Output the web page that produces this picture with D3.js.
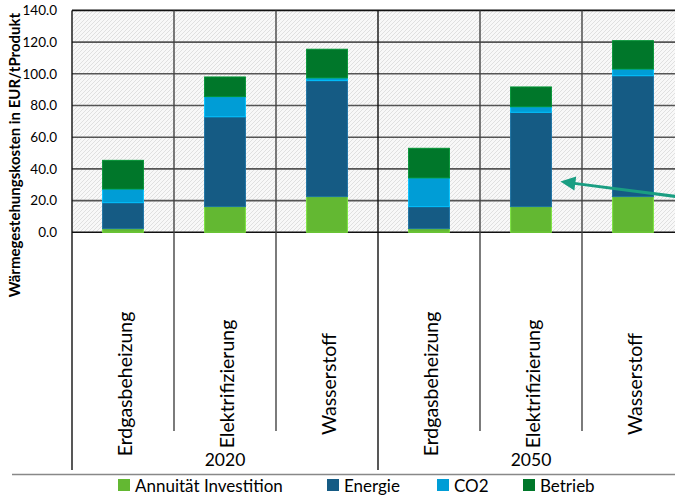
<!DOCTYPE html>
<html>
<head>
<meta charset="utf-8">
<script src="https://cdn.jsdelivr.net/npm/d3@7"></script>
<style>
  body { margin: 0; background: #fff; }
  text { font-family: Lato, "Open Sans", sans-serif; fill: #000; }
</style>
</head>
<body>
<script>
var years = ["2020", "2050"];
var technologies = ["Erdgasbeheizung", "Elektrifizierung", "Wasserstoff"];
var seriesNames = ["Annuität Investition", "Energie", "CO2", "Betrieb"];
var seriesColors = ["#63b832", "#155b84", "#009dd6", "#00772a"];

// one value per bar, order: 2020 x3, 2050 x3
var annuitaet = [2.3, 16.2, 22.5, 2.3, 16.2, 22.5];
var energie   = [16.4, 56.7, 73.2, 13.9, 59.5, 76.3];
var co2       = [8.6, 12.7, 1.7, 18.1, 3.5, 4.2];
var betrieb   = [18.1, 12.4, 18.1, 18.7, 12.5, 17.9];
var yTicks = [0, 20, 40, 60, 80, 100, 120, 140];

var width = 675, height = 498;
var plotL = 72, plotR = 684, plotT = 10.4, plotB = 232.3;

var svg = d3.select('body').append('svg').attr('width', width).attr('height', height);

// hatch pattern for plot background
var pat = svg.append('defs').append('pattern')
    .attr('id', 'hatch').attr('patternUnits', 'userSpaceOnUse')
    .attr('width', 4).attr('height', 4);
pat.append('rect').attr('width', 4).attr('height', 4).attr('fill', '#f8f8f8');
pat.append('path').attr('d', 'M-1,1 l2,-2 M0,4 l4,-4 M3,5 l2,-2')
    .attr('stroke', '#e0e0e0').attr('stroke-width', 1);

var bars = [];
years.forEach(function(yr, gi) {
  technologies.forEach(function(t, ti) {
    bars.push({year: yr, tech: t, key: yr + '|' + t, idx: gi * 3 + ti});
  });
});
var seriesData = [annuitaet, energie, co2, betrieb];

var x = d3.scaleBand().domain(bars.map(d => d.key)).range([plotL, plotR])
    .paddingInner(0.6).paddingOuter(0.3);
var y = d3.scaleLinear().domain([0, 140]).range([plotB, plotT]);
var step = x.step();

svg.append('rect').attr('x', plotL).attr('y', plotT)
    .attr('width', plotR - plotL).attr('height', plotB - plotT).attr('fill', 'url(#hatch)');

// horizontal gridlines
svg.append('g').selectAll('line').data(yTicks).enter().append('line')
    .attr('x1', plotL).attr('x2', plotR)
    .attr('y1', d => y(d)).attr('y2', d => y(d))
    .attr('stroke', d => (d === 0 || d === 140) ? '#111' : '#555')
    .attr('stroke-width', 1.6);

// vertical separators inside plot + below
var bounds = d3.range(bars.length + 1);
svg.append('g').selectAll('line').data(bounds).enter().append('line')
    .attr('x1', i => plotL + i * step).attr('x2', i => plotL + i * step)
    .attr('y1', plotT)
    .attr('y2', i => (i % 3 === 0) ? 470 : 431)
    .attr('stroke', i => (i % 3 === 0) ? '#111' : '#444')
    .attr('stroke-width', 1.4);

// stacked bars
var stackRows = bars.map(function(b) {
  var row = {key: b.key};
  seriesNames.forEach(function(s, si) { row[s] = seriesData[si][b.idx]; });
  return row;
});
var stacked = d3.stack().keys(seriesNames)(stackRows);

svg.append('g').selectAll('g').data(stacked).enter().append('g')
    .attr('fill', (d, i) => seriesColors[i])
    .attr('stroke', (d, i) => d3.color(seriesColors[i]).brighter(0.6))
    .attr('stroke-width', 1)
  .selectAll('rect').data(d => d).enter().append('rect')
    .attr('x', d => x(d.data.key))
    .attr('width', x.bandwidth())
    .attr('y', d => y(d[1]))
    .attr('height', d => y(d[0]) - y(d[1]));

// y tick labels
svg.append('g').selectAll('text').data(yTicks).enter().append('text')
    .attr('x', 57).attr('y', d => y(d)).attr('dy', '0.35em')
    .attr('text-anchor', 'end').style('font-size', '13.5px')
    .text(d => d.toFixed(1));

// y title
svg.append('text')
    .attr('transform', 'translate(20,155) rotate(-90)')
    .attr('text-anchor', 'middle')
    .style('font-size', '15px').style('font-weight', 'bold')
    .text('Wärmegestehungskosten in EUR/tProdukt');

// category labels
svg.append('g').selectAll('text').data(bars).enter().append('text')
    .attr('transform', d => 'translate(' + (x(d.key) + x.bandwidth() / 2 + 9) + ',384) rotate(-90)')
    .attr('text-anchor', 'middle').style('font-size', '19.5px')
    .text(d => d.tech);

// year labels
svg.append('g').selectAll('text').data(years).enter().append('text')
    .attr('x', (d, i) => plotL + (i * 3 + 1.5) * step).attr('y', 466)
    .attr('text-anchor', 'middle').style('font-size', '17.5px')
    .text(d => d);

// bottom line
svg.append('line').attr('x1', 12).attr('x2', width).attr('y1', 474.5).attr('y2', 474.5)
    .attr('stroke', '#888').attr('stroke-width', 1.5);

// legend
var legendX = [118, 327, 437, 523];
var lg = svg.append('g').selectAll('g').data(seriesNames).enter().append('g')
    .attr('transform', (d, i) => 'translate(' + legendX[i] + ',479)');
lg.append('rect').attr('width', 12).attr('height', 12).attr('fill', (d, i) => seriesColors[i]);
lg.append('text').attr('x', 17).attr('y', 12.5).style('font-size', '17px').text(d => d);

// annotation arrow pointing at Elektrifizierung 2050
var tipX = x(bars[4].key) + x.bandwidth() + 9, tipY = y(32);
var tailX = width + 2, tailY = y(22.5);
var ang = Math.atan2(tipY - tailY, tipX - tailX);
var arrowColor = '#1a9e82';
svg.append('line').attr('x1', tailX).attr('y1', tailY)
    .attr('x2', tipX - 12 * Math.cos(ang)).attr('y2', tipY - 12 * Math.sin(ang))
    .attr('stroke', arrowColor).attr('stroke-width', 3);
var hl = 15, hw = 7;
var bx = tipX - hl * Math.cos(ang), by = tipY - hl * Math.sin(ang);
svg.append('path')
    .attr('d', 'M' + tipX + ',' + tipY +
      'L' + (bx + hw * Math.sin(ang)) + ',' + (by - hw * Math.cos(ang)) +
      'L' + (bx - hw * Math.sin(ang)) + ',' + (by + hw * Math.cos(ang)) + 'Z')
    .attr('fill', arrowColor);
</script>
</body>
</html>
